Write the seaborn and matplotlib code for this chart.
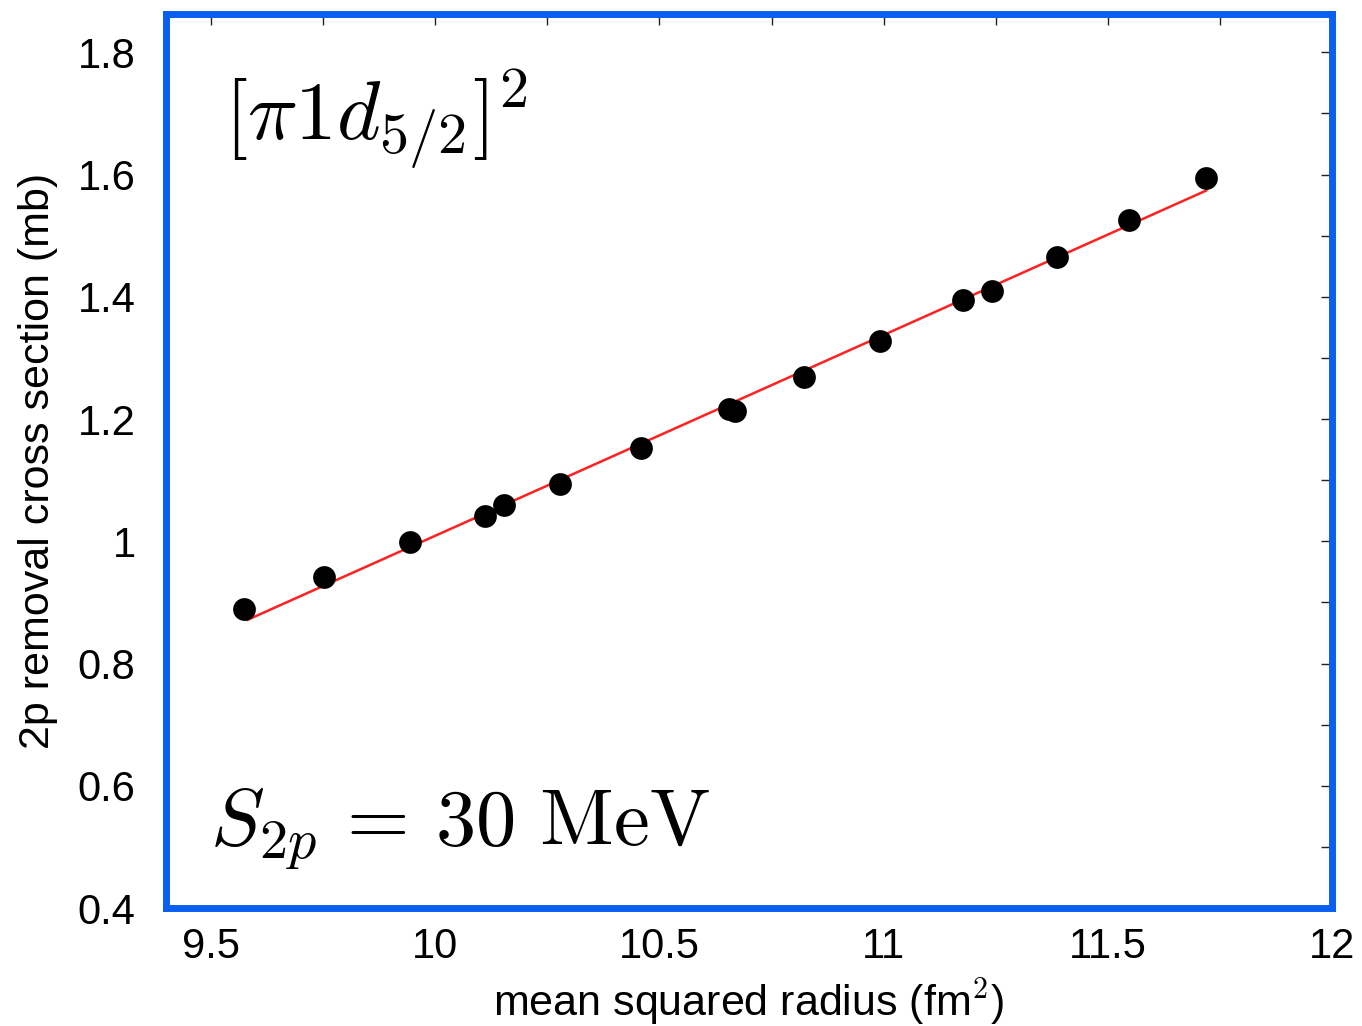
import numpy as np
import pandas as pd
import matplotlib
matplotlib.use('Agg')
import matplotlib.pyplot as plt
import seaborn as sns
from matplotlib.ticker import MultipleLocator

sns.set_style("white")
plt.rcParams['font.family'] = ['Liberation Sans', 'DejaVu Sans']
plt.rcParams['mathtext.fontset'] = 'cm'
plt.rcParams['text.color'] = 'black'
plt.rcParams['axes.labelcolor'] = 'black'
plt.rcParams['xtick.color'] = 'black'
plt.rcParams['ytick.color'] = 'black'

# Data
radius = [9.573, 9.753, 9.944, 10.111, 10.153, 10.278, 10.46, 10.656, 10.669,
          10.822, 10.991, 11.176, 11.242, 11.387, 11.547, 11.72]
cross_section = [0.889, 0.941, 0.998, 1.041, 1.06, 1.094, 1.153, 1.216, 1.213,
                 1.268, 1.328, 1.395, 1.41, 1.465, 1.525, 1.594]
fit_x = [9.58, 11.72]
fit_y = [0.871, 1.574]

x_ticks = [9.5, 10, 10.5, 11, 11.5, 12]
x_tick_labels = ['9.5', '10', '10.5', '11', '11.5', '12']
y_ticks = [0.4, 0.6, 0.8, 1.0, 1.2, 1.4, 1.6, 1.8]
y_tick_labels = ['0.4', '0.6', '0.8', '1', '1.2', '1.4', '1.6', '1.8']

df = pd.DataFrame({'r2': radius, 'sigma': cross_section})
fit = pd.DataFrame({'r2': fit_x, 'sigma': fit_y})

fig = plt.figure(figsize=(13.62, 10.26), dpi=100)
ax = fig.add_axes([0.122, 0.115, 0.856, 0.871])

sns.lineplot(data=fit, x='r2', y='sigma', color='#ff2020', linewidth=1.8, ax=ax)
sns.scatterplot(data=df, x='r2', y='sigma', color='black', s=230,
                edgecolor='black', zorder=3, ax=ax)

ax.set_xlim(9.4, 12)
ax.set_ylim(0.4, 1.862)
ax.set_xticks(x_ticks)
ax.set_xticklabels(x_tick_labels)
ax.set_yticks(y_ticks)
ax.set_yticklabels(y_tick_labels)
ax.xaxis.set_minor_locator(MultipleLocator(0.25))
ax.yaxis.set_minor_locator(MultipleLocator(0.1))
ax.tick_params(which='both', direction='in', top=True, right=True,
               length=8, width=1, color='#222222')
ax.tick_params(which='major', labelsize=30)
ax.tick_params(axis='x', which='major', pad=14)
ax.tick_params(axis='y', which='major', pad=22)

ax.set_xlabel('mean squared radius (fm$^2$)', fontsize=31, labelpad=6)
ax.set_ylabel('2p removal cross section (mb)', fontsize=31, labelpad=14)

for sp in ax.spines.values():
    sp.set_color('#0a5ff0')
    sp.set_linewidth(5)

ax.text(0.05, 0.94, r'$[\pi 1d_{5/2}]^2$', transform=ax.transAxes,
        fontsize=60, va='top', ha='left')
ax.text(0.038, 0.07, r'$S_{2p}\,=\,30\ \mathrm{MeV}$', transform=ax.transAxes,
        fontsize=58, va='baseline', ha='left')

fig.savefig('out.png', dpi=100)
